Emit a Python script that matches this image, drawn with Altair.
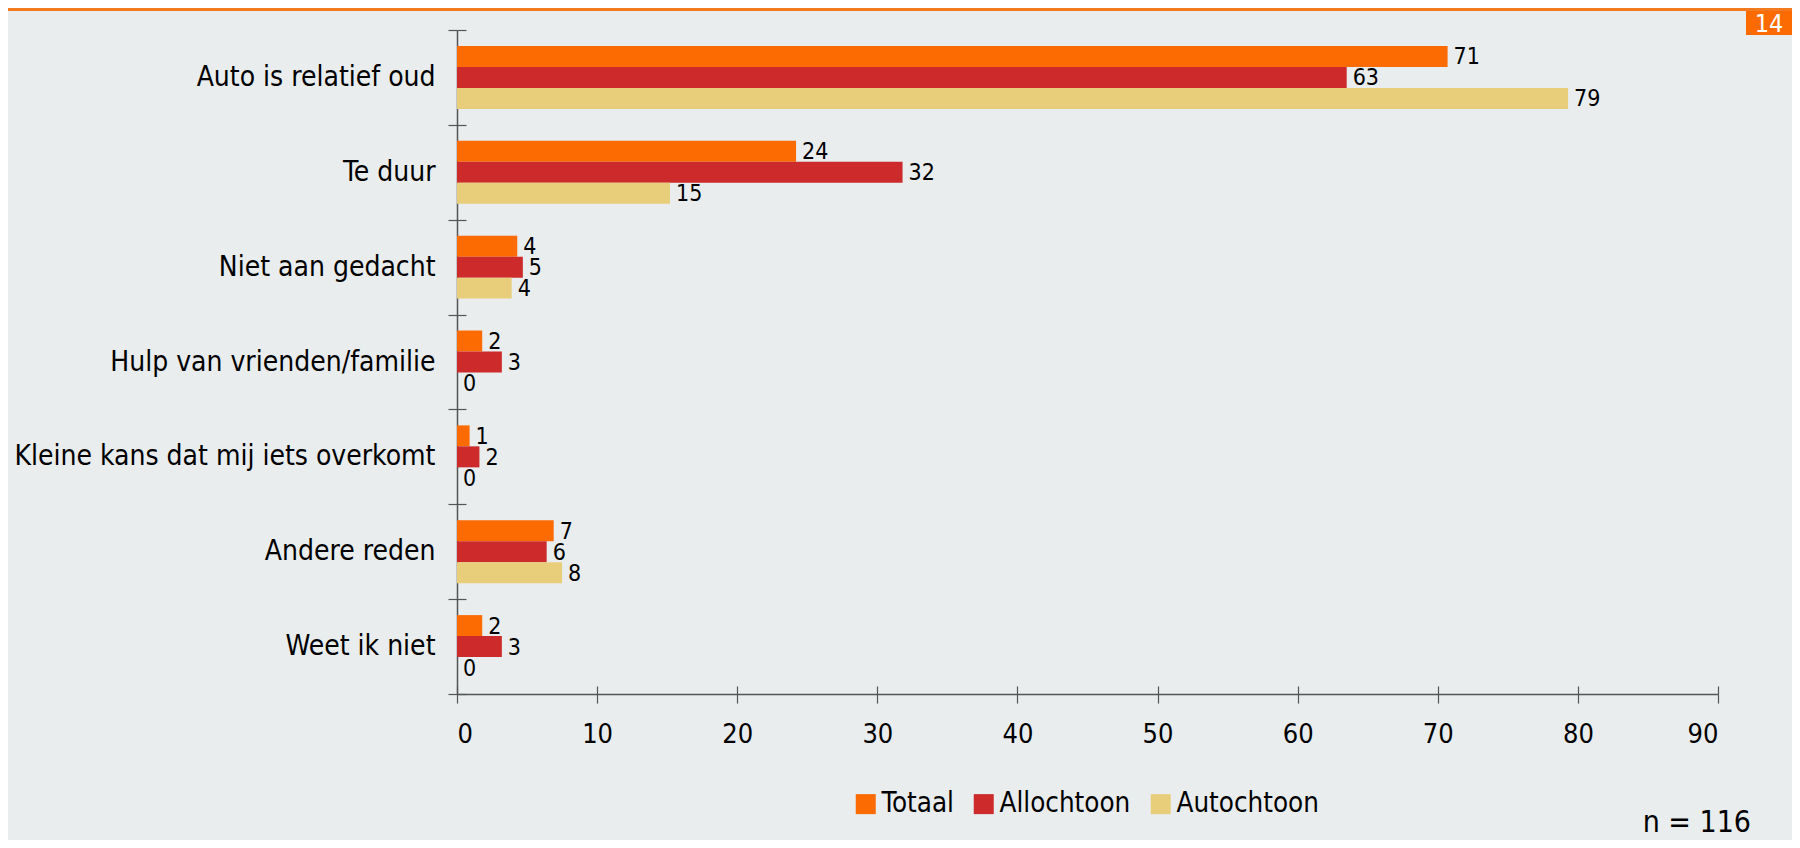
import altair as alt
import pandas as pd

categories = [
    "Auto is relatief oud",
    "Te duur",
    "Niet aan gedacht",
    "Hulp van vrienden/familie ",
    "Kleine kans dat mij iets overkomt",
    "Andere reden",
    "Weet ik niet",
]
series = ["Totaal", "Allochtoon", "Autochtoon"]
totaal = [70.7, 24.2, 4.3, 1.8, 0.9, 6.9, 1.8]
allochtoon = [63.5, 31.8, 4.7, 3.2, 1.6, 6.4, 3.2]
autochtoon = [79.3, 15.2, 3.9, 0.0, 0.0, 7.5, 0.0]
totaal_lbl = [71, 24, 4, 2, 1, 7, 2]
allochtoon_lbl = [63, 32, 5, 3, 2, 6, 3]
autochtoon_lbl = [79, 15, 4, 0, 0, 8, 0]
x_ticks = [0, 10, 20, 30, 40, 50, 60, 70, 80, 90]
colors = ["#FC6A02", "#CC2A2B", "#E8CE7B"]

rows = []
for s, vals, lbls in zip(series, [totaal, allochtoon, autochtoon],
                         [totaal_lbl, allochtoon_lbl, autochtoon_lbl]):
    for c, v, l in zip(categories, vals, lbls):
        rows.append({"cat": c, "series": s, "value": v, "label": str(l)})
df = pd.DataFrame(rows)

FONT = "DejaVu Sans Condensed, DejaVu Sans"
W, H = 1261, 664
AX = "#555555"

yscale = alt.Scale(domain=categories, paddingInner=0, paddingOuter=0)
offscale = alt.Scale(domain=series, paddingInner=0, paddingOuter=0.76)
xscale = alt.Scale(domain=[0, 90], nice=False)

base = alt.Chart(df)

bars = base.mark_bar().encode(
    y=alt.Y("cat:N", scale=yscale, title=None,
            axis=alt.Axis(orient="left", tickBand="extent", tickSize=9,
                          labelFontSize=28, labelFont=FONT, labelColor="#000",
                          labelPadding=13, domainColor=AX, domainWidth=1.5,
                          tickColor=AX, tickWidth=1.2, labelLimit=600)),
    yOffset=alt.YOffset("series:N", sort=series, scale=offscale),
    x=alt.X("value:Q", scale=xscale, title=None,
            axis=alt.Axis(orient="bottom", values=x_ticks, tickSize=9,
                          labelFontSize=27, labelFont=FONT, labelColor="#000",
                          labelPadding=18, domainColor=AX, domainWidth=1.5,
                          tickColor=AX, tickWidth=1.2, grid=False)),
    color=alt.Color("series:N", sort=series,
                    scale=alt.Scale(domain=series, range=colors),
                    legend=alt.Legend(title=None, orient="none", direction="horizontal",
                                      legendX=395, legendY=760, symbolType="square",
                                      symbolSize=400, symbolStrokeWidth=0,
                                      labelFontSize=27.5, labelFont=FONT,
                                      labelColor="#000", labelOffset=2,
                                      columnPadding=16)),
)

texts = base.mark_text(align="left", baseline="middle", dx=6, dy=1,
                       fontSize=23, font=FONT, color="#000").encode(
    y=alt.Y("cat:N", scale=yscale, axis=None),
    yOffset=alt.YOffset("series:N", sort=series, scale=offscale),
    x=alt.X("value:Q", scale=xscale, axis=None),
    text="label:N",
)

inner_ticks = base.mark_bar(opacity=0).encode(
    y=alt.Y("cat:N", scale=yscale, title=None,
            axis=alt.Axis(orient="left", offset=-9, tickBand="extent", tickSize=9,
                          labels=False, domain=False, tickColor=AX, tickWidth=1.2)),
    x=alt.X("value:Q", scale=xscale, title=None,
            axis=alt.Axis(orient="bottom", values=x_ticks, offset=-8, tickSize=8,
                          labels=False, domain=False, tickColor=AX, tickWidth=1.2,
                          grid=False)),
)

deco = pd.DataFrame({"k": [0]})
top_line = alt.Chart(deco).mark_rule(color="#F47A20", strokeWidth=3).encode(
    x=alt.value(-449), x2=alt.value(1335), y=alt.value(-20.5))
box = alt.Chart(deco).mark_rect(color="#FC6A02").encode(
    x=alt.value(1289), x2=alt.value(1335), y=alt.value(-19), y2=alt.value(5))
box_txt = alt.Chart(deco).mark_text(color="white", fontSize=25, font=FONT,
                                    align="center", baseline="middle").encode(
    x=alt.value(1312), y=alt.value(-6), text=alt.value("14"))
n_txt = alt.Chart(deco).mark_text(color="#000", fontSize=30, font=FONT,
                                  align="right", baseline="alphabetic").encode(
    x=alt.value(1294), y=alt.value(802), text=alt.value("n = 116"))

chart = alt.layer(bars, texts, inner_ticks, top_line, box, box_txt, n_txt).resolve_axis(
    x="independent", y="independent"
).properties(
    width=W, height=H,
    autosize=alt.AutoSizeParams(type="none"),
    padding={"left": 449, "top": 22, "right": 74, "bottom": 146},
).configure(background="#E9EDEE").configure_view(stroke=None)

chart.save("out.html", embed_options={"renderer": "svg", "actions": False})
